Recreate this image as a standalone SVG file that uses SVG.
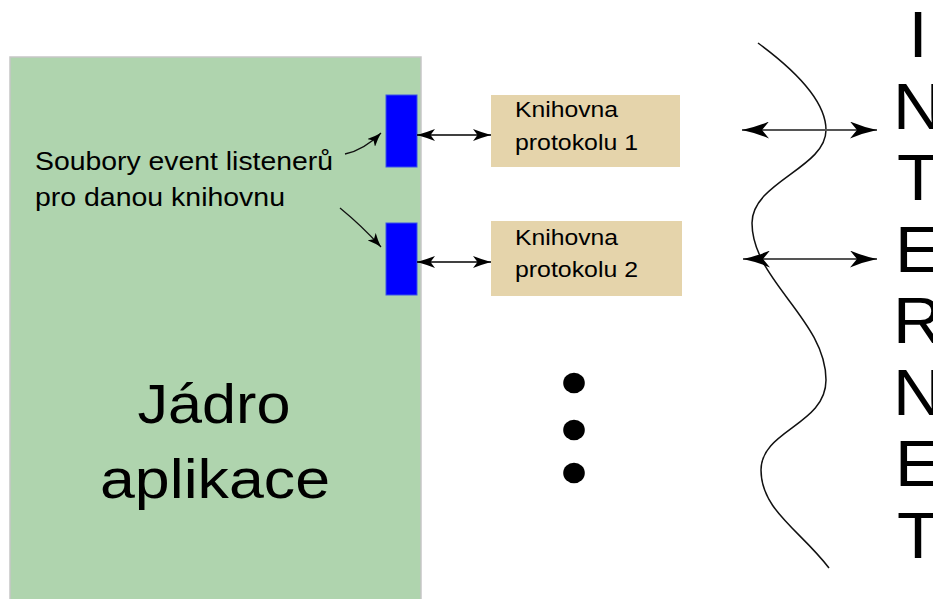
<svg xmlns="http://www.w3.org/2000/svg" width="933" height="599" viewBox="0 0 933 599">
  <style>
    text { font-family: "Liberation Sans", Arial, sans-serif; fill: #000; }
    .core { fill: #afd4ae; stroke: #c6c6c6; stroke-width: 1.5; }
    .listener { fill: #0000ff; stroke: #3a55e6; stroke-width: 1; }
    .lib { fill: #e5d4ab; }
    .link { stroke: #000; stroke-width: 1.3; fill: none; }
    .net { stroke: #555; stroke-width: 2; fill: none; }
    .wave { stroke: #111; stroke-width: 1.5; fill: none; }
    .pointer { stroke: #111; stroke-width: 1.3; fill: none; }
    .big { font-size: 56px; }
    .note { font-size: 26px; }
    .lbl { font-size: 22.5px; }
    .letter { font-size: 65px; }
  </style>
  <defs>
    <marker id="headSmall" viewBox="0 0 18 12" refX="18" refY="6" markerWidth="18" markerHeight="12" markerUnits="userSpaceOnUse" orient="auto-start-reverse">
      <path d="M18,6 Q9,3.5 0,0 L4.5,6 L0,12 Q9,8.5 18,6 Z" fill="#000"/>
    </marker>
    <marker id="headBig" viewBox="0 0 27 17" refX="27" refY="8.5" markerWidth="27" markerHeight="17" markerUnits="userSpaceOnUse" orient="auto-start-reverse">
      <path d="M27,8.5 Q13,5.5 0,0 L7,8.5 L0,17 Q13,11.5 27,8.5 Z" fill="#000"/>
    </marker>
    <marker id="headPointer" viewBox="0 0 14 11" refX="14" refY="5.5" markerWidth="14" markerHeight="11" markerUnits="userSpaceOnUse" orient="auto">
      <path d="M14,5.5 Q7,3.5 0,0 L3.5,5.5 L0,11 Q7,7.5 14,5.5 Z" fill="#000"/>
    </marker>
  </defs>

  <!-- application core -->
  <g id="core">
    <rect class="core" x="10" y="57" width="411" height="560"/>
    <text class="big" x="214" y="423" text-anchor="middle" textLength="153" lengthAdjust="spacingAndGlyphs">Jádro</text>
    <text class="big" x="215" y="498" text-anchor="middle" textLength="230" lengthAdjust="spacingAndGlyphs">aplikace</text>
  </g>

  <!-- note about listener files -->
  <g id="note">
    <text class="note" x="35" y="170" textLength="298" lengthAdjust="spacingAndGlyphs">Soubory event listenerů</text>
    <text class="note" x="35" y="206" textLength="250" lengthAdjust="spacingAndGlyphs">pro danou knihovnu</text>
  </g>

  <!-- event listener files -->
  <g id="listener1">
    <rect class="listener" x="386" y="95" width="31" height="72"/>
  </g>
  <g id="listener2">
    <rect class="listener" x="386" y="223" width="31" height="72"/>
  </g>

  <!-- protocol libraries -->
  <g id="lib1">
    <rect class="lib" x="491" y="95" width="189" height="72"/>
    <text class="lbl" x="515" y="117" textLength="103" lengthAdjust="spacingAndGlyphs">Knihovna</text>
    <text class="lbl" x="515" y="150" textLength="123" lengthAdjust="spacingAndGlyphs">protokolu 1</text>
  </g>
  <g id="lib2">
    <rect class="lib" x="491" y="221" width="191" height="75"/>
    <text class="lbl" x="515" y="245" textLength="103" lengthAdjust="spacingAndGlyphs">Knihovna</text>
    <text class="lbl" x="515" y="277" textLength="123" lengthAdjust="spacingAndGlyphs">protokolu 2</text>
  </g>

  <!-- more libraries -->
  <g id="more">
    <ellipse cx="574" cy="383" rx="10.8" ry="10.3"/>
    <ellipse cx="574" cy="430" rx="10.8" ry="10.3"/>
    <ellipse cx="574" cy="473" rx="10.8" ry="10.3"/>
  </g>

  <!-- network boundary -->
  <g id="internet">
    <path class="wave" d="M758,43 C792,68 826,100 826,130 C826,168 752,182 752,223 C752,280 826,320 826,380 C826,425 761,430 761,470 C761,510 800,530 829,568"/>
    <g transform="translate(918,0) scale(1.06,1)">
      <text class="letter" x="0" y="57" text-anchor="middle">I</text>
      <text class="letter" x="0" y="129" text-anchor="middle">N</text>
      <text class="letter" x="0" y="200" text-anchor="middle">T</text>
      <text class="letter" x="0" y="272" text-anchor="middle">E</text>
      <text class="letter" x="0" y="343" text-anchor="middle">R</text>
      <text class="letter" x="0" y="415" text-anchor="middle">N</text>
      <text class="letter" x="0" y="486" text-anchor="middle">E</text>
      <text class="letter" x="0" y="558" text-anchor="middle">T</text>
    </g>
  </g>

  <!-- connectors -->
  <g id="connectors">
    <path class="pointer" d="M345,154 Q364,150 381,133" marker-end="url(#headPointer)"/>
    <path class="pointer" d="M340,208 Q362,226 381,247" marker-end="url(#headPointer)"/>
    <line class="link" x1="417" y1="135" x2="491" y2="135" marker-start="url(#headSmall)" marker-end="url(#headSmall)"/>
    <line class="link" x1="417" y1="262" x2="491" y2="262" marker-start="url(#headSmall)" marker-end="url(#headSmall)"/>
    <line class="net" x1="742" y1="130" x2="877" y2="130" marker-start="url(#headBig)" marker-end="url(#headBig)"/>
    <line class="net" x1="743" y1="259" x2="877" y2="259" marker-start="url(#headBig)" marker-end="url(#headBig)"/>
  </g>
</svg>
